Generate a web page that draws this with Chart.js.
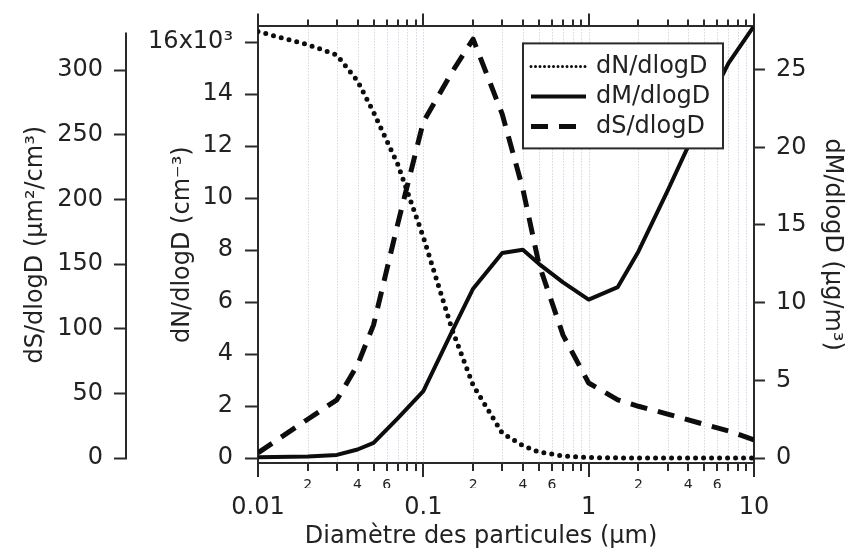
<!DOCTYPE html>
<html>
<head>
<meta charset="utf-8">
<script src="https://cdn.jsdelivr.net/npm/chart.js@4.4.1/dist/chart.umd.min.js"></script>
<style>
html,body{margin:0;padding:0;background:#ffffff;}
#wrap{width:851px;height:552px;}
</style>
</head>
<body>
<div id="wrap"><canvas id="c" width="851" height="552"></canvas></div>
<script>
// ---------------- DATA ----------------
const diameters = [0.01, 0.02, 0.03, 0.04, 0.05, 0.07, 0.1, 0.15, 0.2, 0.3, 0.4, 0.5, 0.7, 1, 1.5, 2, 3, 5, 7, 10]; // µm
const dNdlogD = [16400, 15900, 15500, 14500, 13300, 11300, 8500, 4900, 2800, 960, 480, 230, 80, 20, 5, 0, 0, 0, 0, 0]; // cm^-3
const dMdlogD = [0.05, 0.1, 0.2, 0.55, 0.97, 2.55, 4.3, 8.2, 10.9, 13.2, 13.4, 12.5, 11.3, 10.2, 11.0, 13.3, 17.2, 22.3, 25.4, 27.8]; // µg/m3
const dSdlogD = [4, 30, 45, 72, 103, 181, 260, 299, 324, 266, 208, 150, 95, 58, 45, 40, 34, 26, 21, 14]; // µm2/cm3

const seriesLabels = ['dN/dlogD', 'dM/dlogD', 'dS/dlogD'];
const xDecades = [0.01, 0.1, 1, 10];
const xDecadeLabels = ['0.01', '0.1', '1', '10'];
const xMultipliers = [1, 2, 3, 4, 5, 6, 7, 8, 9];
const xLabelledMultipliers = [2, 4, 6];
const dNTicks = [0, 2000, 4000, 6000, 8000, 10000, 12000, 14000, 16000];
const dNTopLabel = '16x10³';
const dSTicks = [0, 50, 100, 150, 200, 250, 300];
const dMTicks = [0, 5, 10, 15, 20, 25];

const xTitle = 'Diamètre des particules (µm)';
const yNTitle = 'dN/dlogD (cm⁻³)';
const ySTitle = 'dS/dlogD (µm²/cm³)';
const yMTitle = 'dM/dlogD (µg/m³)';

// ---------------- STYLE ----------------
const AX = '#2a2a2a';
const TXT = '#222222';
const LINE = '#0d0d0d';
const FONT = 'DejaVu Sans';
Chart.defaults.font.family = FONT;
Chart.defaults.color = TXT;

// all x tick values (1..9 x each decade, plus last decade)
const xAllTicks = [];
for (let i = 0; i < xDecades.length - 1; i++) {
  xMultipliers.forEach(m => xAllTicks.push(+(m * xDecades[i]).toPrecision(6)));
}
xAllTicks.push(xDecades[xDecades.length - 1]);
const mantissa = v => Math.round(v / Math.pow(10, Math.floor(Math.log10(v) + 1e-9)));

const pts = arr => diameters.map((d, i) => ({x: d, y: arr[i]}));

const styles = [
  {borderWidth: 5, borderDash: [0, 8], borderCapStyle: 'round'},
  {borderWidth: 4, borderDash: [], borderCapStyle: 'butt'},
  {borderWidth: 5, borderDash: [17, 11], borderCapStyle: 'butt'}
];

const framePlugin = {
  id: 'framePlugin',
  beforeDatasetsDraw(chart) {
    const {ctx, chartArea} = chart;
    const xs = chart.scales.x;
    ctx.save();
    ctx.strokeStyle = 'rgba(150,150,185,0.6)';
    ctx.lineWidth = 1;
    ctx.setLineDash([1, 2]);
    xs.ticks.forEach(t => {
      const p = Math.round(xs.getPixelForValue(t.value)) + 0.5;
      if (p < chartArea.left + 2 || p > chartArea.right - 2) return;
      ctx.beginPath();
      ctx.moveTo(p, chartArea.top);
      ctx.lineTo(p, chartArea.bottom);
      ctx.stroke();
    });
    ctx.restore();
  },
  afterDraw(chart) {
    const {ctx, chartArea} = chart;
    const xs = chart.scales.x;
    ctx.save();
    ctx.strokeStyle = AX;
    ctx.lineWidth = 2;
    ctx.setLineDash([]);
    xs.ticks.forEach(t => {
      const p = Math.round(xs.getPixelForValue(t.value));
      const major = mantissa(t.value) === 1;
      ctx.beginPath();
      ctx.moveTo(p, chartArea.bottom);
      ctx.lineTo(p, chartArea.bottom + (major ? 14 : 8));
      ctx.moveTo(p, chartArea.top);
      ctx.lineTo(p, chartArea.top - (major ? 13 : 7));
      ctx.stroke();
    });
    // outer dS axis line
    const ys = chart.scales.yS;
    const xl = Math.round(ys.right) - 1;
    ctx.beginPath();
    ctx.moveTo(xl, ys.getPixelForValue(0) + 1);
    ctx.lineTo(xl, ys.getPixelForValue(329));
    ctx.stroke();

    // x axis title (offset left as in the original)
    ctx.font = '24px "' + FONT + '"';
    ctx.fillStyle = TXT;
    ctx.textAlign = 'center';
    ctx.textBaseline = 'middle';
    ctx.fillText(xTitle, chartArea.left + 223, chart.scales.x2.bottom - 15);

    // legend
    const bx = chartArea.right - 231, by = chartArea.top + 17, bw = 200, bh = 105;
    ctx.fillStyle = '#ffffff';
    ctx.fillRect(bx, by, bw, bh);
    ctx.strokeStyle = AX;
    ctx.lineWidth = 2;
    ctx.strokeRect(bx, by, bw, bh);
    ctx.textBaseline = 'middle';
    ctx.textAlign = 'left';
    chart.data.datasets.forEach((ds, i) => {
      const yy = by + 23 + i * 30;
      ctx.save();
      ctx.strokeStyle = LINE;
      if (i === 0) { ctx.lineWidth = 3; ctx.setLineDash([0, 4.5]); ctx.lineCap = 'round'; }
      else { ctx.lineWidth = ds.borderWidth; ctx.setLineDash(ds.borderDash); ctx.lineCap = 'butt'; }
      ctx.beginPath();
      ctx.moveTo(bx + 8, yy);
      ctx.lineTo(bx + 63, yy);
      ctx.stroke();
      ctx.restore();
      ctx.fillStyle = TXT;
      ctx.fillText(ds.label, bx + 73, yy);
    });
    ctx.restore();
  }
};

const yCommon = (ticksArr, padding, tl) => ({
  afterBuildTicks: s => { s.ticks = ticksArr.map(v => ({value: v})); },
  grid: {display: true, drawOnChartArea: false, drawTicks: true, tickLength: tl, tickWidth: 2, tickColor: AX},
  ticks: {font: {size: 24}, padding: padding, color: TXT, autoSkip: false}
});

new Chart(document.getElementById('c'), {
  type: 'line',
  data: {
    datasets: [
      Object.assign({label: seriesLabels[0], data: pts(dNdlogD), yAxisID: 'yN', xAxisID: 'x'}, styles[0]),
      Object.assign({label: seriesLabels[1], data: pts(dMdlogD), yAxisID: 'yM', xAxisID: 'x'}, styles[1]),
      Object.assign({label: seriesLabels[2], data: pts(dSdlogD), yAxisID: 'yS', xAxisID: 'x'}, styles[2])
    ].map(d => Object.assign(d, {borderColor: LINE, backgroundColor: LINE, pointRadius: 0, fill: false, tension: 0, borderJoinStyle: 'round'}))
  },
  options: {
    responsive: false,
    devicePixelRatio: 1,
    animation: false,
    layout: {padding: 0},
    plugins: {legend: {display: false}, tooltip: {enabled: false}},
    scales: {
      x: {
        type: 'logarithmic', position: 'bottom', min: 0.01, max: 10, weight: 0,
        afterBuildTicks: s => { s.ticks = xAllTicks.map(v => ({value: v})); },
        afterFit: s => { s.height = 25; },
        grid: {display: false, drawTicks: false},
        border: {display: true, color: AX, width: 2},
        ticks: {
          autoSkip: false, maxRotation: 0, minRotation: 0, padding: 14, font: {size: 14}, color: TXT,
          callback: (v) => xLabelledMultipliers.includes(mantissa(v)) ? String(mantissa(v)) : ''
        }
      },
      x2: {
        type: 'logarithmic', position: 'bottom', min: 0.01, max: 10, weight: 1,
        afterBuildTicks: s => { s.ticks = xDecades.map(v => ({value: v})); },
        afterFit: s => { s.height = 64; },
        grid: {display: false, drawTicks: false},
        border: {display: false},
        ticks: {
          autoSkip: false, maxRotation: 0, minRotation: 0, padding: 5, font: {size: 24}, color: TXT,
          callback: (v, i) => xDecadeLabels[i]
        },
        title: {display: false}
      },
      xTop: {
        type: 'logarithmic', position: 'top', min: 0.01, max: 10,
        afterFit: s => { s.height = 26; },
        grid: {display: false, drawTicks: false},
        border: {display: true, color: AX, width: 2},
        ticks: {display: false}
      },
      yN: Object.assign(yCommon(dNTicks, 12, 13), {
        position: 'left', weight: 0, min: -192, max: 16600,
        afterFit: s => { s.width = 131; },
        border: {display: true, color: AX, width: 2},
        title: {display: true, text: yNTitle, font: {size: 24}, color: TXT, padding: {top: 41, bottom: 0}}
      }),
      yS: Object.assign(yCommon(dSTicks, 11, 13), {
        position: 'left', weight: 1, min: -3.86, max: 333.8,
        afterFit: s => { s.width = 127; },
        border: {display: false},
        title: {display: true, text: ySTitle, font: {size: 24}, color: TXT, padding: {top: 21, bottom: 0}}
      }),
      yM: Object.assign(yCommon(dMTicks, 11, 11), {
        position: 'right', min: -0.32, max: 27.78,
        afterFit: s => { s.width = 97; },
        border: {display: true, color: AX, width: 2},
        title: {display: true, text: yMTitle, font: {size: 24}, color: TXT, padding: {top: 4, bottom: 0}}
      })
    }
  },
  plugins: [framePlugin]
});

// tick label for the top of the dN axis
Chart.getChart('c').options.scales.yN.ticks.callback = (v) => v === 16000 ? dNTopLabel : String(v / 1000);
Chart.getChart('c').update('none');
</script>
</body>
</html>
